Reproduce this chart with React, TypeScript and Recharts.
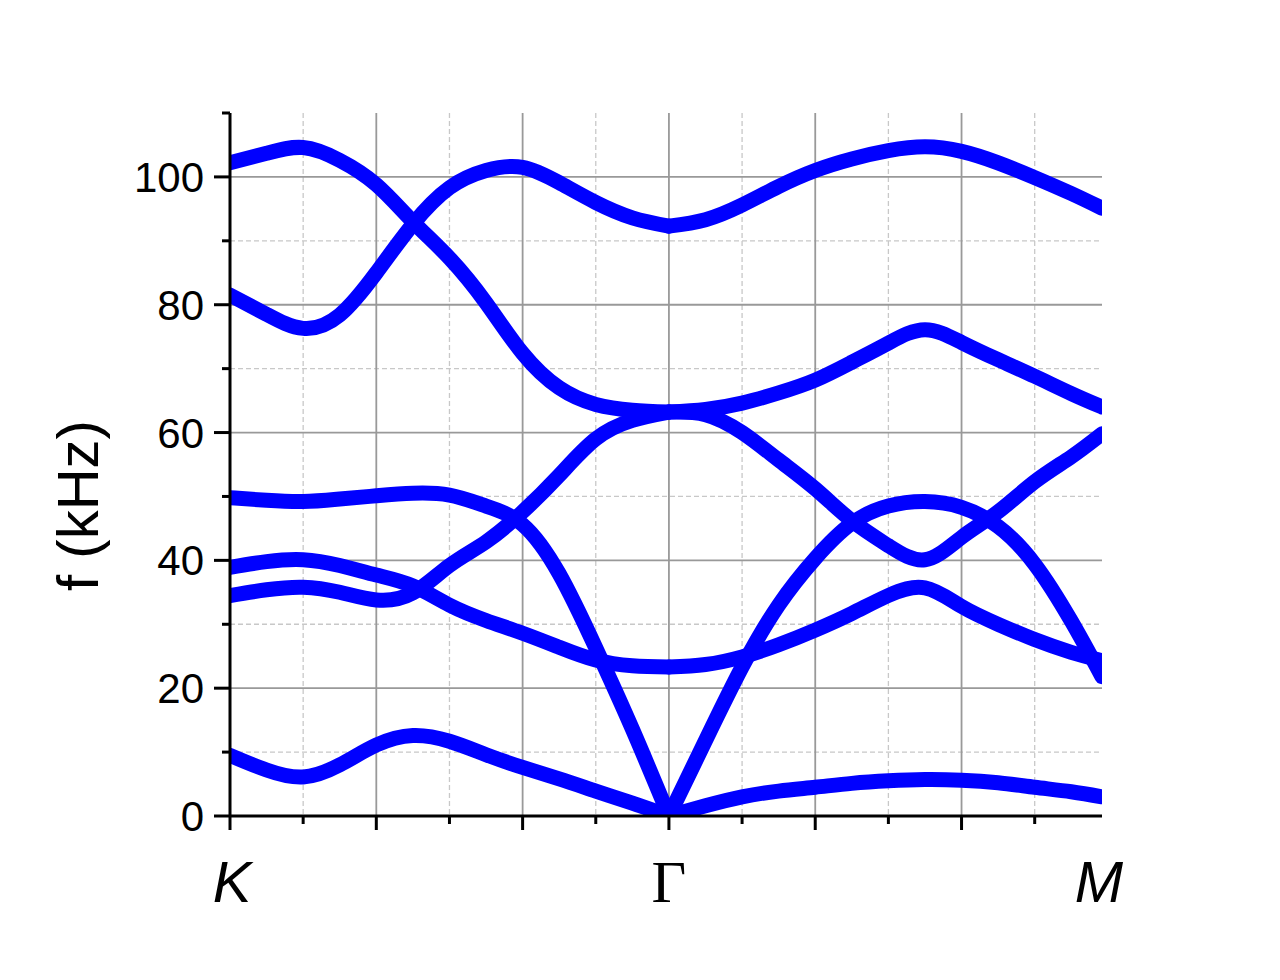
import React from 'react';
import { LineChart, Line, XAxis, YAxis, CartesianGrid } from 'recharts';

// k-path coordinate: K = 0, Γ = 3, M = 5.96
const kgX = [0, 0.25, 0.5, 0.75, 1, 1.25, 1.5, 1.75, 2, 2.25, 2.5, 2.75, 3];
const gmX = [3, 3.25, 3.5, 3.75, 4, 4.25, 4.5, 4.75, 5, 5.25, 5.5, 5.75, 5.96];

// K -> Γ branches, f in kHz
const kgBand1 = [102.2, 103.7, 104.6, 102.6, 98.8, 93.0, 87.3, 80.3, 72.4, 67.0, 64.4, 63.5, 63.2];
const kgBand2 = [81.5, 78.5, 76.3, 78.4, 85.0, 92.6, 98.3, 101.0, 101.5, 99.1, 96.0, 93.6, 92.3];
const kgBand3 = [49.8, 49.4, 49.2, 49.6, 50.1, 50.5, 50.2, 48.5, 45.6, 37.9, 26.3, 13.6, 0];
const kgBand4 = [38.9, 39.8, 40.1, 39.2, 37.7, 36.0, 33.0, 30.6, 28.6, 26.4, 24.4, 23.5, 23.3];
const kgBand5 = [34.5, 35.4, 35.8, 35.0, 33.8, 34.9, 39.2, 42.9, 47.6, 53.3, 59.0, 61.9, 63.2];
const kgBand6 = [9.5, 7.2, 6.1, 8.0, 11.1, 12.6, 11.7, 9.6, 7.6, 5.8, 3.9, 2.0, 0];

// Γ -> M branches, f in kHz
const gmBand1 = [92.3, 93.3, 95.6, 98.5, 101.0, 102.8, 104.1, 104.7, 104.0, 102.2, 99.9, 97.4, 95.1];
const gmBand2 = [63.2, 63.6, 64.6, 66.2, 68.2, 71.0, 74.0, 76.1, 74.1, 71.4, 68.8, 66.1, 64.0];
const gmBand3 = [63.2, 62.8, 60.0, 55.7, 51.2, 46.2, 42.3, 40.1, 43.6, 47.6, 52.3, 56.2, 59.8];
const gmBand4 = [0, 11.8, 23.3, 33.0, 40.3, 45.8, 48.5, 49.2, 48.3, 45.3, 39.4, 30.5, 21.8];
const gmBand5 = [23.3, 23.7, 24.9, 26.8, 29.1, 31.7, 34.5, 35.7, 32.8, 30.0, 27.6, 25.6, 24.3];
const gmBand6 = [0, 1.6, 3.0, 3.9, 4.5, 5.1, 5.5, 5.7, 5.6, 5.2, 4.5, 3.8, 3.0];

// axes
const xMarks = [0, 0.5, 1, 1.5, 2, 2.5, 3, 3.5, 4, 4.5, 5, 5.5];
const pointX = [0, 3, 5.96];
const pointNames = ['K', 'Γ', 'M'];
const yTicks = [0, 10, 20, 30, 40, 50, 60, 70, 80, 90, 100, 110];
const yLabeled = [0, 20, 40, 60, 80, 100];
const gridMajorX = [1, 2, 3, 4, 5];
const gridMinorX = [0.5, 1.5, 2.5, 3.5, 4.5, 5.5];
const gridMajorY = [20, 40, 60, 80, 100];
const gridMinorY = [10, 30, 50, 70, 90];

const SANS = "'Liberation Sans', Arial, sans-serif";
const SERIF = "'Liberation Serif', 'Times New Roman', serif";
const BLUE = '#0000ff';

const toPoints = (xs: number[], ys: number[]) => xs.map((x, i) => ({ x, f: ys[i] }));

const series = [
  toPoints(kgX, kgBand1),
  toPoints(kgX, kgBand2),
  toPoints(kgX, kgBand3),
  toPoints(kgX, kgBand4),
  toPoints(kgX, kgBand5),
  toPoints(kgX, kgBand6),
  toPoints(gmX, gmBand1),
  toPoints(gmX, gmBand2),
  toPoints(gmX, gmBand3),
  toPoints(gmX, gmBand4),
  toPoints(gmX, gmBand5),
  toPoints(gmX, gmBand6),
];

const YTick = (props: any) => {
  const { x, y, payload } = props;
  const v = payload.value;
  const labeled = yLabeled.includes(v);
  return (
    <g>
      <line x1={x} x2={x - (labeled ? 16 : 8)} y1={y} y2={y} stroke="#000" strokeWidth={3} />
      {labeled && (
        <text x={x - 26} y={y} dy="0.36em" textAnchor="end" fontSize={42} fontFamily={SANS} fill="#000">
          {v}
        </text>
      )}
    </g>
  );
};

const XTick = (props: any) => {
  const { x, y, payload } = props;
  const v = payload.value;
  const idx = pointX.indexOf(v);
  const name = idx >= 0 ? pointNames[idx] : null;
  const hasMark = xMarks.includes(v);
  const major = Number.isInteger(v);
  return (
    <g>
      {hasMark && <line x1={x} x2={x} y1={y} y2={y + (major ? 14 : 8)} stroke="#000" strokeWidth={3} />}
      {name && (
        <text
          x={x + (name === 'K' ? 2 : name === 'M' ? -3 : 0)}
          y={y + 86}
          textAnchor="middle"
          fontSize={name === 'Γ' ? 60 : 58}
          fontStyle={name === 'Γ' ? 'normal' : 'italic'}
          fontFamily={name === 'Γ' ? SERIF : SANS}
          fill="#000"
        >
          {name}
        </text>
      )}
    </g>
  );
};

const YLabel = (props: any) => {
  const vb = props.viewBox || { x: 0, y: 105, width: 222, height: 703 };
  const cx = vb.x + 90;
  const cy = vb.y + vb.height / 2 + 41;
  return (
    <text
      x={cx}
      y={cy}
      transform={`rotate(-90 ${cx} ${cy})`}
      textAnchor="middle"
      fontSize={58}
      fontFamily={SANS}
      fill="#000"
    >
      f (kHz)
    </text>
  );
};

export default function App() {
  return (
    <div style={{ width: 1264, height: 964, background: '#fff' }}>
      <LineChart width={1264} height={964} margin={{ top: 105, right: 170, left: 0, bottom: 36 }}>
        <CartesianGrid
          verticalValues={gridMinorX}
          horizontalValues={gridMinorY}
          stroke="#c8c8c8"
          strokeWidth={1.3}
          strokeDasharray="5 3"
        />
        <CartesianGrid verticalValues={gridMajorX} horizontalValues={gridMajorY} stroke="#999999" strokeWidth={1.8} />
        <XAxis
          type="number"
          dataKey="x"
          domain={[0, 5.96]}
          allowDataOverflow
          ticks={[...xMarks, 5.96]}
          interval={0}
          tickSize={0}
          tickMargin={0}
          tickLine={false}
          tick={XTick}
          height={120}
          axisLine={{ stroke: '#000', strokeWidth: 3 }}
        />
        <YAxis
          type="number"
          domain={[0, 110]}
          allowDataOverflow
          ticks={yTicks}
          interval={0}
          tickSize={0}
          tickMargin={0}
          tickLine={false}
          tick={YTick}
          width={222}
          axisLine={{ stroke: '#000', strokeWidth: 3 }}
          label={{ content: YLabel }}
        />
        {series.map((d, i) => (
          <Line
            key={i}
            data={d}
            dataKey="f"
            type="natural"
            stroke={BLUE}
            strokeWidth={15}
            strokeLinecap="round"
            strokeLinejoin="round"
            dot={false}
            activeDot={false}
            isAnimationActive={false}
          />
        ))}
      </LineChart>
    </div>
  );
}
